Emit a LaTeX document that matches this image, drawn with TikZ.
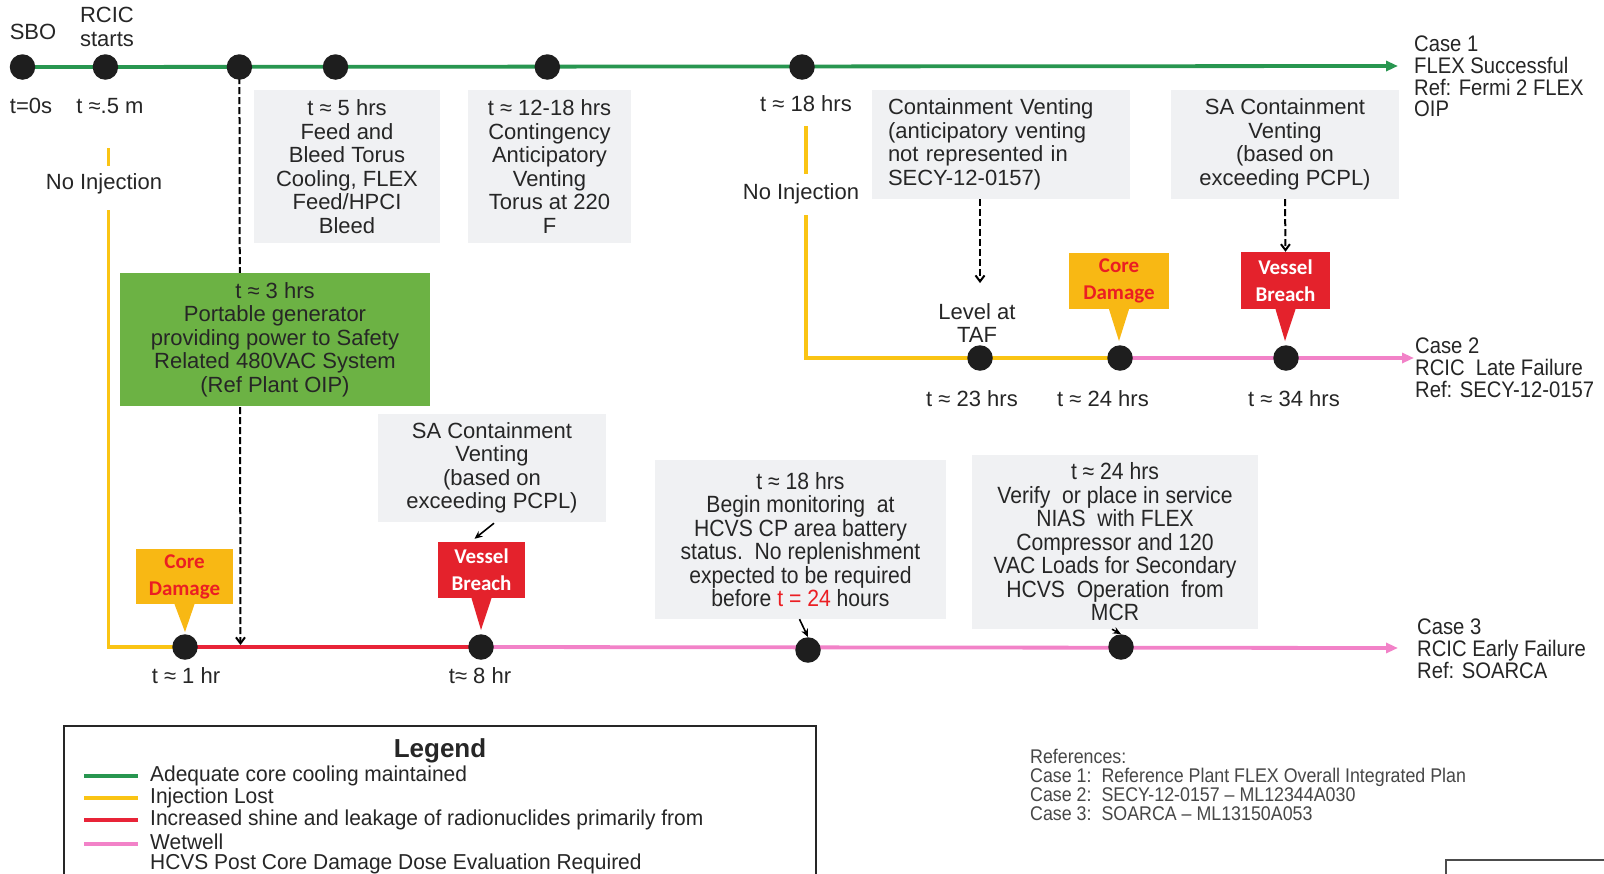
\documentclass[tikz,border=0pt]{standalone}
\usepackage{fontspec}
\setmainfont{Liberation Sans}
\newfontfamily\nf[FakeStretch=0.9]{Liberation Sans}
\newfontfamily\nfl[FakeStretch=0.97]{Liberation Sans}
\newfontfamily\cbf{Carlito}
\usetikzlibrary{arrows.meta}
\definecolor{lgreen}{RGB}{40,150,80}
\definecolor{lyellow}{RGB}{250,196,20}
\definecolor{lred}{RGB}{232,36,56}
\definecolor{lpink}{RGB}{242,130,200}
\definecolor{boxgray}{RGB}{240,241,243}
\definecolor{gboxc}{RGB}{108,178,68}
\definecolor{cdfill}{RGB}{248,184,20}
\definecolor{cdtext}{RGB}{235,30,35}
\definecolor{vbfill}{RGB}{228,34,44}
\definecolor{dotc}{RGB}{30,30,30}
\definecolor{txt}{RGB}{38,38,38}
\tikzset{
  tl/.style={line width=3.8},
  gl/.style={tl, draw=lgreen},
  yl/.style={tl, draw=lyellow},
  rl/.style={tl, draw=lred},
  pl/.style={tl, draw=lpink},
  tip/.style={-{Triangle[length=12,width=10]}},
  dotn/.style={circle, fill=dotc, minimum size=25.5, inner sep=0},
  lbl/.style={font=\fontsize{22}{23.5}\selectfont, text=txt, inner sep=0, align=center},
  gbx/.style={fill=boxgray, align=center, inner sep=0, text=txt, font=\fontsize{22}{23.5}\selectfont},
  nbx/.style={fill=boxgray, align=center, inner sep=0, text=txt, font=\nf\fontsize{23.5}{23.5}\selectfont},
  casel/.style={font=\nf\fontsize{22.5}{21.8}\selectfont, text=txt, inner sep=0, align=left, anchor=west},
  cdbox/.style={fill=cdfill, text=cdtext, font=\cbf\bfseries\fontsize{21}{27}\selectfont, align=center, inner sep=0},
  vbbox/.style={fill=vbfill, text=white, font=\cbf\bfseries\fontsize{21}{27}\selectfont, align=center, inner sep=0},
  dsh/.style={draw=black, line width=2, dash pattern=on 7pt off 3pt, -{Straight Barb[length=6,width=9]}},
  sarr/.style={draw=black, line width=1.6, -{Stealth[length=8,width=7]}},
  legl/.style={line width=4},
  legtx/.style={font=\nfl\fontsize{21.6}{21}\selectfont, text=txt, inner sep=0, anchor=west}
}
\begin{document}
\begin{tikzpicture}[x=1pt,y=-1pt]
\useasboundingbox (0,0) rectangle (1604,873);
\begin{scope}
\clip (0,0) rectangle (1604,873);
\fill[white] (0,0) rectangle (1604,873);

% positions
\coordinate (p0) at (22.5,67);
\coordinate (p1) at (105.4,67);
\coordinate (p2) at (239.4,67);
\coordinate (p3) at (335.5,67);
\coordinate (p4) at (547.3,67);
\coordinate (p5) at (802,67);
\coordinate (c1end) at (1398,66);

\coordinate (q1) at (980,358);
\coordinate (q2) at (1120,358);
\coordinate (q3) at (1286,358);
\coordinate (c2end) at (1414,358);

\coordinate (r1) at (185,647);
\coordinate (r2) at (481,647);
\coordinate (r3) at (808,650);
\coordinate (r4) at (1121,647);
\coordinate (c3end) at (1398,648);

% timelines
\draw[gl, tip] (p0) -- (c1end);

\coordinate (y2a) at (806,126);
\coordinate (y2b) at (806,174);
\coordinate (y2c) at (806,215);
\coordinate (y2d) at (806,358);
\draw[yl] (y2a) -- (y2b);
\draw[yl] (y2c) -- (y2d) -- (q2);
\draw[pl, tip] (q2) -- (c2end);

\coordinate (y3a) at (108.5,148);
\coordinate (y3b) at (108.5,166);
\coordinate (y3c) at (108.5,210);
\coordinate (y3d) at (108.5,647);
\draw[yl] (y3a) -- (y3b);
\draw[yl] (y3c) -- (y3d) -- (r1);
\draw[rl] (r1) -- (r2);
\draw[pl, tip] (r2) -- (c3end);

% dashed from 3 hr point
\coordinate (dend) at (240.5,645);
\draw[dsh] (p2) -- (dend);

% dots
\node[dotn] (d0) at (p0) {};
\node[dotn] (d1) at (p1) {};
\node[dotn] (d2) at (p2) {};
\node[dotn] (d3) at (p3) {};
\node[dotn] (d4) at (p4) {};
\node[dotn] (d5) at (p5) {};
\node[dotn] (e1) at (q1) {};
\node[dotn] (e2) at (q2) {};
\node[dotn] (e3) at (q3) {};
\node[dotn] (f1) at (r1) {};
\node[dotn] (f2) at (r2) {};
\node[dotn] (f3) at (r3) {};
\node[dotn] (f4) at (r4) {};

% top labels
\node[lbl] (sbo) at (33,32) {SBO};
\node[lbl] (rcic) at (107,27) {RCIC\\starts};
\node[lbl] (t0) at (31,106) {t=0s};
\node[lbl] (t05) at (110,106) {t ≈.5 m};
\node[lbl] (noinj1) at (104,184) {No Injection};
\node[lbl] (t18a) at (806,104) {t ≈ 18 hrs};
\node[lbl] (noinj2) at (801,194) {No Injection};

% top boxes
\node[gbx, minimum width=186, minimum height=153] (b5) at (347,166.5)
  {t ≈ 5 hrs\\Feed and\\Bleed Torus\\Cooling, FLEX\\Feed/HPCI\\Bleed};
\node[gbx, minimum width=163, minimum height=153] (b12) at (549.5,166.5)
  {t ≈ 12-18 hrs\\Contingency\\Anticipatory\\Venting\\Torus at 220\\F};
\node[gbx, align=left, minimum width=258, minimum height=109, text width=226] (bcv) at (1001,144.5)
  {Containment Venting\\(anticipatory venting\\not represented in\\SECY-12-0157)};
\node[gbx, minimum width=228, minimum height=109] (bsa1) at (1285,144.5)
  {SA Containment\\Venting\\(based on\\exceeding PCPL)};

% green box
\node[gbx, fill=gboxc, minimum width=310, minimum height=133] (gb) at (275,339.5)
  {t ≈ 3 hrs\\Portable generator\\providing power to Safety\\Related 480VAC System\\(Ref Plant OIP)};

% case 2 callouts
\node[lbl] (lvl) at (977,323) {Level at\\TAF};
\draw[dsh] (bcv.south -| e1) -- ([yshift=20]lvl.north -| e1);
\node[cdbox, minimum width=100, minimum height=56] (cd2) at (1119,281) {Core\\Damage};
\coordinate (cd2tip) at (1119,341);
\fill[cdfill] ([xshift=-10]cd2.south) -- (cd2tip) -- ([xshift=10]cd2.south) -- cycle;
\node[vbbox, minimum width=89, minimum height=57] (vb2) at (1285.5,280.5) {Vessel\\Breach};
\coordinate (vb2tip) at (1285,341);
\fill[vbfill] ([xshift=-10]vb2.south) -- (vb2tip) -- ([xshift=10]vb2.south) -- cycle;
\draw[dsh] (bsa1.south) -- (vb2.north);

\node[lbl] (t23) at (972,399) {t ≈ 23 hrs};
\node[lbl] (t24) at (1103,399) {t ≈ 24 hrs};
\node[lbl] (t34) at (1294,399) {t ≈ 34 hrs};

% case 3 callouts
\node[cdbox, minimum width=97, minimum height=55] (cd3) at (184.5,576.5) {Core\\Damage};
\coordinate (cd3tip) at (185,632);
\fill[cdfill] ([xshift=-10]cd3.south) -- (cd3tip) -- ([xshift=10]cd3.south) -- cycle;
\node[vbbox, minimum width=87, minimum height=56] (vb3) at (481.5,570) {Vessel\\Breach};
\coordinate (vb3tip) at (481,630);
\fill[vbfill] ([xshift=-10]vb3.south) -- (vb3tip) -- ([xshift=10]vb3.south) -- cycle;

\node[gbx, minimum width=228, minimum height=108] (bsa3) at (492,468)
  {SA Containment\\Venting\\(based on\\exceeding PCPL)};
\draw[sarr] ([xshift=2,yshift=-1]bsa3.south) -- ([xshift=-7,yshift=3]vb3.north);

\node[nbx, minimum width=291, minimum height=159] (b18) at (800.5,539.5)
  {t ≈ 18 hrs\\Begin monitoring\ \ at\\HCVS CP area battery\\status.\ \ No replenishment\\expected to be required\\before {\color{cdtext}t = 24} hours};
\draw[sarr] ([xshift=-1]b18.south) -- (f3.north);

\node[nbx, minimum width=286, minimum height=174] (b24) at (1115,542)
  {t ≈ 24 hrs\\Verify\ \ or place in service\\NIAS\ \ with FLEX\\Compressor and 120\\VAC Loads for Secondary\\HCVS\ \ Operation\ \ from\\MCR};
\draw[sarr] ([xshift=-3]b24.south) -- (f4.north);

\node[lbl] (t1) at (186,676) {t ≈ 1 hr};
\node[lbl] (t8) at (480,676) {t≈ 8 hr};

% case labels
\node[casel] (case1) at (1414,76.5) {Case 1\\FLEX Successful\\Ref: Fermi 2 FLEX\\OIP};
\node[casel] (case2) at (1415,368) {Case 2\\RCIC\ \ Late Failure\\Ref: SECY-12-0157};
\node[casel] (case3) at (1417,649) {Case 3\\RCIC Early Failure\\Ref: SOARCA};

% legend
\draw[line width=2, draw=black!85] (64,726) rectangle (816,920);
\node[font=\bfseries\fontsize{26}{28}\selectfont, text=txt, inner sep=0] (legt) at (440,751) {Legend};
\coordinate (la1) at (84,776); \coordinate (lb1) at (138,776);
\coordinate (la2) at (84,798); \coordinate (lb2) at (138,798);
\coordinate (la3) at (84,820); \coordinate (lb3) at (138,820);
\coordinate (la4) at (84,844); \coordinate (lb4) at (138,844);
\draw[legl, draw=lgreen] (la1) -- (lb1);
\draw[legl, draw=lyellow] (la2) -- (lb2);
\draw[legl, draw=lred] (la3) -- (lb3);
\draw[legl, draw=lpink] (la4) -- (lb4);
\node[legtx] (lt1) at (150,776) {Adequate core cooling maintained};
\node[legtx] (lt2) at (150,798) {Injection Lost};
\node[legtx] (lt3) at (150,820) {Increased shine and leakage of radionuclides primarily from};
\node[legtx] (lt4) at (150,842) {Wetwell};
\node[legtx] (lt5) at (150,864) {HCVS Post Core Damage Dose Evaluation Required};

% references
\node[font=\nf\fontsize{19.8}{19}\selectfont, text=txt!85, inner sep=0, anchor=west, align=left] (refs) at (1030,785)
  {References:\\Case 1:\ \ Reference Plant FLEX Overall Integrated Plan\\Case 2:\ \ SECY-12-0157 – ML12344A030\\Case 3:\ \ SOARCA – ML13150A053};

% partial box bottom right
\draw[line width=1.5, draw=black!70] (1446,860) rectangle (1700,960);
\end{scope}
\end{tikzpicture}
\end{document}
